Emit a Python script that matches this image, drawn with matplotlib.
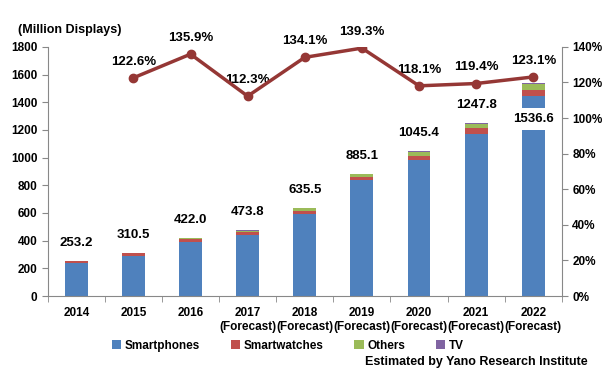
import matplotlib.pyplot as plt
import numpy as np

plt.rcParams['font.family'] = ['Liberation Sans', 'DejaVu Sans']

years = ['2014', '2015', '2016', '2017\n(Forecast)', '2018\n(Forecast)', '2019\n(Forecast)',
         '2020\n(Forecast)', '2021\n(Forecast)', '2022\n(Forecast)']
totals = [253.2, 310.5, 422.0, 473.8, 635.5, 885.1, 1045.4, 1247.8, 1536.6]
smartphones = [241, 290, 392, 438, 590, 835, 985, 1170, 1445]
smartwatches = [12, 20, 22, 22, 25, 28, 30, 42, 42]
others = [0.2, 0.5, 7, 12, 18, 19, 27, 32, 45]
tv = [0.0, 0.0, 1.0, 1.8, 2.5, 3.1, 3.4, 3.8, 4.6]
growth_years = [1, 2, 3, 4, 5, 6, 7, 8]
growth = [122.6, 135.9, 112.3, 134.1, 139.3, 118.1, 119.4, 123.1]

fig = plt.figure(figsize=(6.12, 3.84), dpi=100)
ax = fig.add_axes([0.078, 0.229, 0.84, 0.649])
x = np.arange(len(years))
w = 0.4

colors = ['#4F81BD', '#C0504D', '#9BBB59', '#8064A2']
names = ['Smartphones', 'Smartwatches', 'Others', 'TV']
bottom = np.zeros(len(years))
for vals, c, n in zip([smartphones, smartwatches, others, tv], colors, names):
    ax.bar(x, vals, w, bottom=bottom, color=c, label=n, zorder=2)
    bottom += np.array(vals)

ax.set_ylim(0, 1800)
ax.set_xlim(-0.5, len(years) - 0.5)
ax.set_yticks(range(0, 1801, 200))
ax.set_xticks(x)
ax.set_xticklabels(years)
ax.set_xticks(np.arange(-0.5, len(years)), minor=True)
ax.tick_params(axis='x', which='major', length=0, pad=8)
ax.tick_params(axis='x', which='minor', length=4, color='#888888')
ax.tick_params(axis='y', length=4, color='#888888')
for lab in ax.get_xticklabels() + ax.get_yticklabels():
    lab.set_fontweight('bold')
    lab.set_fontsize(8.5)
ax.spines['top'].set_visible(False)
ax.spines['right'].set_visible(False)
ax.spines['left'].set_color('#888888')
ax.spines['bottom'].set_color('#888888')

for i, t in enumerate(totals):
    if i == len(totals) - 1:
        ax.text(i, 1280, f'{t:.1f}', ha='center', va='center', fontsize=9.5, fontweight='bold',
                bbox=dict(facecolor='white', edgecolor='none', pad=3.5), zorder=3)
    else:
        ax.text(i, t + 130, f'{t:.1f}', ha='center', va='center', fontsize=9.5, fontweight='bold', zorder=3)

ax2 = ax.twinx()
ax2.plot(growth_years, growth, color='#953735', lw=2.5, marker='o', markersize=6, zorder=4)
ax2.set_ylim(0, 140)
ax2.set_yticks(range(0, 141, 20))
ax2.set_yticklabels([f'{v}%' for v in range(0, 141, 20)])
ax2.tick_params(axis='y', length=4, color='#888888')
for lab in ax2.get_yticklabels():
    lab.set_fontweight('bold')
    lab.set_fontsize(8.5)
for s in ['top', 'left', 'bottom']:
    ax2.spines[s].set_visible(False)
ax2.spines['right'].set_color('#888888')
for gx, g in zip(growth_years, growth):
    ax2.text(gx, g + 9, f'{g}%', ha='center', va='center', fontsize=9.5, fontweight='bold')

fig.text(0.03, 0.915, '(Million Displays)', fontsize=9, fontweight='bold')

handles, labels = ax.get_legend_handles_labels()
fig.legend(handles, labels, loc='center', bbox_to_anchor=(0.47, 0.1), ncol=4, frameon=False,
           prop={'weight': 'bold', 'size': 8.5}, handlelength=0.8, handleheight=0.8,
           columnspacing=2.6, handletextpad=0.3)
fig.text(0.96, 0.05, 'Estimated by Yano Research Institute', ha='right', fontsize=9, fontweight='bold')

fig.savefig('out.png', dpi=100)
